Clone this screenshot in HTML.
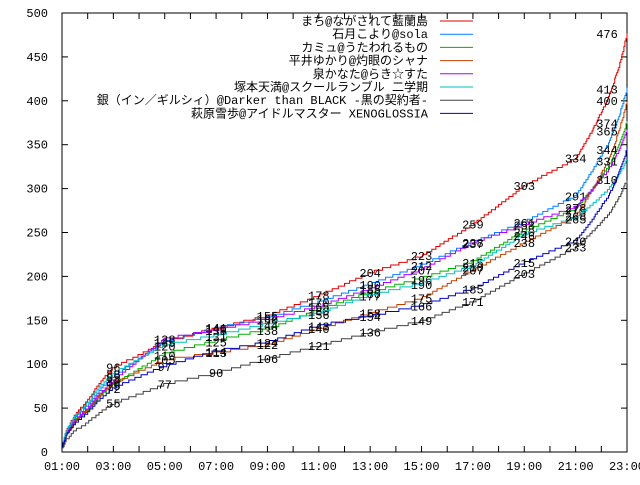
<!DOCTYPE html>
<html><head><meta charset="utf-8"><style>
html,body{margin:0;padding:0;background:#fff;}
svg text{font-family:"Liberation Mono","Noto Sans CJK JP",monospace;font-size:12px;fill:#000;}
</style></head><body>
<svg id="s" width="640" height="480" xmlns="http://www.w3.org/2000/svg"></svg>
<script>
const s=document.getElementById('s');
const X=h=>62+(h-1)*565/22, Y=v=>452-v*439/500;
let out='';
out+='<rect x="62" y="13" width="565" height="439" fill="none" stroke="#000" stroke-width="1"/>';
for(let v=0;v<=500;v+=50){const y=Y(v);out+=`<line x1="62" x2="68" y1="${y}" y2="${y}" stroke="#000"/><line x1="621" x2="627" y1="${y}" y2="${y}" stroke="#000"/><text x="48" y="${y+4}" text-anchor="end">${v}</text>`;}
for(let h=1;h<=23;h++){const x=X(h);out+=`<line x1="${x}" x2="${x}" y1="452" y2="446" stroke="#000"/><line x1="${x}" x2="${x}" y1="13" y2="19" stroke="#000"/>`;if(h%2==1)out+=`<text x="${x}" y="470" text-anchor="middle">${String(h).padStart(2,'0')}:00</text>`;}
const S=[
['まち@ながされて藍蘭島','#e00000',[96,125,141,155,178,204,223,259,303,334,476]],
['石月こより@sola','#0080ff',[85,125,140,152,170,190,212,238,261,291,413]],
['カミュ@うたわれるもの','#00b000',[75,110,125,138,160,180,196,215,250,275,374]],
['平井ゆかり@灼眼のシャナ','#c04000',[78,105,113,122,140,158,175,207,238,268,400]],
['泉かなた@らき☆すた','#b000ff',[80,128,138,150,165,185,207,237,258,278,365]],
['塚本天満@スクールランブル 二学期','#00c0c0',[88,120,131,144,156,177,190,210,246,265,331]],
['銀（イン／ギルシィ）@Darker than BLACK -黒の契約者-','#404040',[55,77,90,106,121,136,149,171,203,233,310]],
['萩原雪歩@アイドルマスター XENOGLOSSIA','#0000c0',[72,97,114,124,143,154,166,185,215,240,344]]];
S.forEach((se,i)=>{
 const v=se[2],f=v[0]/90;
 let pts=[[1,5],[1.15,22*f],[1.5,40*f],[2,55*f],[2.5,75*f]];
 for(let k=0;k<10;k++)pts.push([3+2*k,v[k]]);
 pts.push([21.7,v[9]+(v[10]-v[9])*0.25],[22.3,v[9]+(v[10]-v[9])*0.5],[22.7,v[9]+(v[10]-v[9])*0.75],[23,v[10]]);
 const iv=h=>{for(let j=0;j<pts.length-1;j++)if(h<=pts[j+1][0]){const t=(h-pts[j][0])/(pts[j+1][0]-pts[j][0]);return pts[j][1]+t*(pts[j+1][1]-pts[j][1]);}return pts[pts.length-1][1];};
 let d='',pv=null,ph=1;
 for(let h=1;h<=23.0001;h+=0.04){let val=Math.round(iv(h)/3)*3+(i%3);if(h<1.01)val=5;if(pv===null){d=`M${X(h).toFixed(1)},${Y(val).toFixed(1)}`;}else if(val!==pv){d+=`H${X(h).toFixed(1)}V${Y(val).toFixed(1)}`;}pv=val;}
 d+=`H${X(23).toFixed(1)}`;
 out+=`<path d="${d}" fill="none" stroke="${se[1]}" stroke-width="1"/>`;
 for(let k=0;k<11;k++){const h=3+2*k,x=k==10?X(23)-20:X(h);out+=`<text x="${x}" y="${Y(v[k])+4}" text-anchor="middle">${v[k]}</text>`;}
 const ly=21+i*13.2;
 out+=`<text x="428" y="${ly+4}" text-anchor="end">${se[0]}</text><line x1="440" x2="473" y1="${ly}" y2="${ly}" stroke="${se[1]}"/>`;
});
s.innerHTML=out;
</script>
</body></html>
